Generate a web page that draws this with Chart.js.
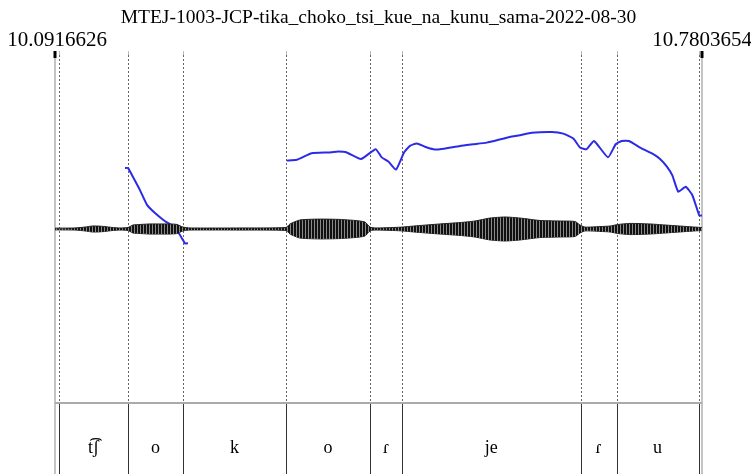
<!DOCTYPE html>
<html>
<head>
<meta charset="utf-8">
<script src="https://cdn.jsdelivr.net/npm/chart.js@4.4.1/dist/chart.umd.min.js"></script>
<style>
  html,body{margin:0;padding:0;background:#fff;}
  #wrap{width:751px;height:474px;}
</style>
</head>
<body>
<div id="wrap"><canvas id="myChart" width="751" height="474"></canvas></div>
<script>
// var init
const title = 'MTEJ-1003-JCP-tika_choko_tsi_kue_na_kunu_sama-2022-08-30';
const tStart = 10.0916626, tEnd = 10.7803654;

// textgrid tier: boundaries (s) and the interval labels between them
const bounds = [10.0959, 10.1694, 10.2279, 10.3376, 10.4270, 10.4610, 10.6511, 10.6894, 10.7767];
const segLabels = ['t͡ʃ', 'o', 'k', 'o', 'ɾ', 'je', 'ɾ', 'u'];

// waveform envelope (s, relative amplitude)
const envTime = [10.0917,10.1129,10.1236,10.1311,10.1374,10.1449,10.1523,10.1608,10.1694,10.1747,10.1821,10.1928,10.2034,10.2141,10.2215,10.2279,10.2354,10.2886,10.3376,10.3418,10.3525,10.3737,10.3950,10.4110,10.4216,10.4270,10.4323,10.4536,10.4610,10.4802,10.5015,10.5228,10.5387,10.5547,10.5707,10.5866,10.6079,10.6292,10.6452,10.6505,10.6558,10.6718,10.6824,10.6910,10.7037,10.7250,10.7410,10.7569,10.7729,10.7803];
const envAmp = [0.005,0.006,0.011,0.017,0.017,0.014,0.009,0.006,0.009,0.023,0.026,0.029,0.029,0.029,0.026,0.011,0.006,0.006,0.009,0.029,0.052,0.057,0.055,0.049,0.040,0.011,0.006,0.009,0.011,0.020,0.029,0.037,0.046,0.063,0.069,0.063,0.049,0.046,0.043,0.023,0.011,0.014,0.017,0.026,0.032,0.029,0.023,0.017,0.011,0.009];

// pitch track (s, Hz), null = unvoiced gap
const pitchTime = [10.1662,10.1694,10.1747,10.1821,10.1896,10.1981,10.2088,10.2162,10.2215,10.2279,10.2300,10.2332,10.2800,
  10.3383,10.3489,10.3649,10.3826,10.3932,10.4022,10.4174,10.4330,10.4394,10.4465,10.4546,10.4632,10.4695,10.4767,10.4855,10.4944,10.5015,10.5228,10.5369,10.5512,10.5725,10.5866,10.5991,10.6204,10.6327,10.6434,10.6505,10.6576,10.6654,10.6803,10.6885,10.6949,10.7027,10.7144,10.7285,10.7357,10.7428,10.7488,10.7551,10.7630,10.7700,10.7775,10.7803];
const pitchHz = [362,362,351,335,317,307,297,292,286,274,270,270,null,
  371,372,380,381,382,381,373,385,375,370,360,381,389,392,388,385,385,389,391,393,399,402,405,406,404,398,387,385,395,375,391,395,395,387,379,373,364,353,333,339,329,304,304];

const serif = '"Liberation Serif","Times New Roman",serif';

// striped fill so the waveform body looks like dense cycles
function stripes() {
    let c = document.createElement('canvas');
    c.width = 3; c.height = 1;
    let g = c.getContext('2d');
    g.fillStyle = '#111'; g.fillRect(0,0,2,1);
    g.fillStyle = '#8a8a8a'; g.fillRect(2,0,1,1);
    return g.createPattern(c, 'repeat');
}

// title, edge times, boundary lines and the tier box
const praatDecor = {
    id:'praatDecor',
    beforeDatasetsDraw(chart){
        const {ctx, chartArea:ca, scales:{x}} = chart;
        ctx.save();
        // light frame lines at both edges
        ctx.strokeStyle = '#c4c4c4'; ctx.lineWidth = 2;
        [tStart, tEnd].forEach(t=>{
            let px = Math.round(x.getPixelForValue(t));
            ctx.beginPath(); ctx.moveTo(px, ca.top); ctx.lineTo(px, chart.height); ctx.stroke();
        });
        // dotted boundaries through the signal
        ctx.strokeStyle = '#666'; ctx.lineWidth = 1; ctx.setLineDash([2,2]);
        bounds.forEach(t=>{
            let px = Math.round(x.getPixelForValue(t)) + 0.5;
            ctx.beginPath(); ctx.moveTo(px, ca.top); ctx.lineTo(px, ca.bottom); ctx.stroke();
        });
        ctx.restore();
    },
    afterDraw(chart){
        const {ctx, chartArea:ca, scales:{x}} = chart;
        ctx.save();
        ctx.fillStyle = '#000';
        ctx.textBaseline = 'middle';
        ctx.textAlign = 'center';
        ctx.font = '19.5px ' + serif;
        ctx.fillText(title, (ca.left + ca.right)/2, 18);
        ctx.font = '21px ' + serif;
        ctx.fillText(tStart.toFixed(7), ca.left + 2, 40);
        ctx.fillText(tEnd.toFixed(7), ca.right, 40);

        // ticks on top
        ctx.strokeStyle = '#000'; ctx.lineWidth = 3;
        [tStart, tEnd].forEach(t=>{
            let px = x.getPixelForValue(t);
            ctx.beginPath(); ctx.moveTo(px, 51); ctx.lineTo(px, 58); ctx.stroke();
        });
        ctx.strokeStyle = '#bbb'; ctx.lineWidth = 1;
        bounds.forEach(t=>{
            let px = Math.round(x.getPixelForValue(t)) + 0.5;
            ctx.beginPath(); ctx.moveTo(px, 51); ctx.lineTo(px, 55); ctx.stroke();
        });

        // tier
        let top = ca.bottom;
        ctx.strokeStyle = '#aaa'; ctx.lineWidth = 2;
        ctx.beginPath(); ctx.moveTo(ca.left, top); ctx.lineTo(ca.right, top); ctx.stroke();
        ctx.strokeStyle = '#333'; ctx.lineWidth = 1;
        bounds.forEach(t=>{
            let px = Math.round(x.getPixelForValue(t)) + 0.5;
            ctx.beginPath(); ctx.moveTo(px, top + 1); ctx.lineTo(px, chart.height); ctx.stroke();
        });
        ctx.font = '18px ' + serif;
        segLabels.forEach((lab,i)=>{
            let mid = (x.getPixelForValue(bounds[i]) + x.getPixelForValue(bounds[i+1]))/2;
            ctx.fillText(lab, mid, top + 45);
        });
        ctx.restore();
    }
};

var ctx = document.getElementById('myChart').getContext('2d');
var myChart = new Chart(ctx, {
    type: 'line',
    data: {
        datasets: [{
            label: 'wave+',
            data: envTime.map((t,i)=>({x:t, y:envAmp[i]})),
            borderColor: '#222',
            backgroundColor: stripes(),
            borderWidth: 1,
            pointRadius: 0,
            tension: 0.2,
            fill: '+1',
            yAxisID: 'yWave',
        },{
            label: 'wave-',
            data: envTime.map((t,i)=>({x:t, y:-envAmp[i]})),
            borderColor: '#222',
            borderWidth: 1,
            pointRadius: 0,
            tension: 0.2,
            fill: false,
            yAxisID: 'yWave',
        },{
            label: 'F0',
            data: pitchTime.map((t,i)=>({x:t, y:pitchHz[i]})),
            borderColor: '#2b2be6',
            borderWidth: 2,
            pointRadius: 0,
            tension: 0.15,
            spanGaps: false,
            fill: false,
            yAxisID: 'yPitch',
        }]
    },
    options: {
        responsive: false,
        devicePixelRatio: 1,
        animation: false,
        layout: { padding: { left: 55, right: 49, top: 55, bottom: 71 } },
        plugins: { legend: { display: false }, tooltip: { enabled: false } },
        scales: {
            x: { type: 'linear', min: tStart, max: tEnd, display: false },
            yWave: { min: -1, max: 1, display: false },
            yPitch: { min: 75, max: 500, display: false }
        }
    },
    plugins: [praatDecor]
});
</script>
</body>
</html>
